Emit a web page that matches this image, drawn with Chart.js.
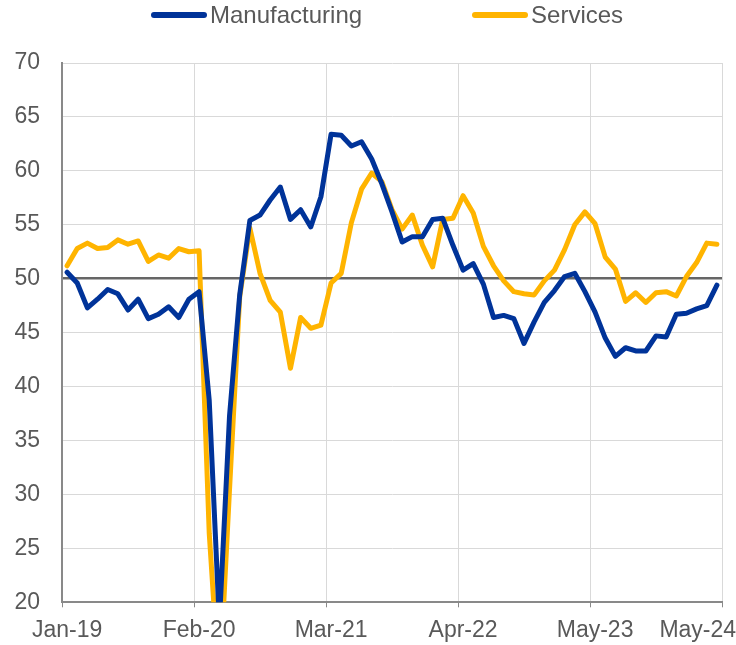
<!DOCTYPE html>
<html>
<head>
<meta charset="utf-8">
<script src="https://cdn.jsdelivr.net/npm/chart.js@4.4.1/dist/chart.umd.min.js"></script>
<style>
  body { margin: 0; background: #fff; }
  #wrap { position: relative; width: 736px; height: 645px; }
  #legend {
    position: absolute; top: 1px; left: 151px;
    display: flex; align-items: center;
    font: 24px 'Liberation Sans', Arial, sans-serif; line-height: 28px; color: #595959;
  }
  .item { display: flex; align-items: center; }
  .item + .item { margin-left: 110px; }
  .swatch { width: 56px; height: 6px; border-radius: 3px; margin-right: 3px; }
</style>
</head>
<body>
<div id="wrap">
  <canvas id="chart" width="736" height="645"></canvas>
  <div id="legend"></div>
</div>
<script>
const months = [
  'Jan-19', 'Feb-19', 'Mar-19', 'Apr-19', 'May-19', 'Jun-19', 'Jul-19', 'Aug-19', 'Sep-19', 'Oct-19', 'Nov-19', 'Dec-19',
  'Jan-20', 'Feb-20', 'Mar-20', 'Apr-20', 'May-20', 'Jun-20', 'Jul-20', 'Aug-20', 'Sep-20', 'Oct-20', 'Nov-20', 'Dec-20',
  'Jan-21', 'Feb-21', 'Mar-21', 'Apr-21', 'May-21', 'Jun-21', 'Jul-21', 'Aug-21', 'Sep-21', 'Oct-21', 'Nov-21', 'Dec-21',
  'Jan-22', 'Feb-22', 'Mar-22', 'Apr-22', 'May-22', 'Jun-22', 'Jul-22', 'Aug-22', 'Sep-22', 'Oct-22', 'Nov-22', 'Dec-22',
  'Jan-23', 'Feb-23', 'Mar-23', 'Apr-23', 'May-23', 'Jun-23', 'Jul-23', 'Aug-23', 'Sep-23', 'Oct-23', 'Nov-23', 'Dec-23',
  'Jan-24', 'Feb-24', 'Mar-24', 'Apr-24', 'May-24'
];

const manufacturing = [
  50.6, 49.6, 47.3, 48.1, 49.0, 48.6, 47.1, 48.1, 46.3, 46.7, 47.4, 46.4,
  48.1, 48.8, 38.7, 18.1, 37.3, 48.5, 55.4, 55.9, 57.3, 58.5, 55.5, 56.4,
  54.8, 57.6, 63.4, 63.3, 62.3, 62.7, 61.1, 58.8, 56.2, 53.4, 53.9, 53.9,
  55.5, 55.6, 53.1, 50.8, 51.4, 49.5, 46.4, 46.6, 46.3, 44.0, 46.0, 47.8,
  48.9, 50.2, 50.5, 48.8, 46.9, 44.5, 42.8, 43.6, 43.3, 43.3, 44.7, 44.6,
  46.7, 46.8, 47.2, 47.5, 49.4
];

const services = [
  51.2, 52.8, 53.3, 52.8, 52.9, 53.6, 53.2, 53.5, 51.6, 52.2, 51.9, 52.8,
  52.5, 52.6, 26.4, 12.0, 30.5, 48.3, 54.7, 50.5, 48.0, 46.9, 41.7, 46.4,
  45.4, 45.7, 49.6, 50.5, 55.2, 58.3, 59.8, 59.0, 56.4, 54.6, 55.9, 53.1,
  51.1, 55.5, 55.6, 57.7, 56.1, 53.0, 51.2, 49.8, 48.8, 48.6, 48.5, 49.8,
  50.8, 52.7, 55.0, 56.2, 55.1, 52.0, 50.9, 47.9, 48.7, 47.8, 48.7, 48.8,
  48.4, 50.2, 51.5, 53.3, 53.2
];

// posiciones de las etiquetas del eje x
const tickIndex = [0, 13, 26, 39, 52, 64];
const seriesNames = ['Manufacturing', 'Services'];
const seriesColors = ['#003399', '#ffb400'];

const textColor = '#595959';
const gridColor = '#d9d9d9';
const axisColor = '#898989';
const fontFamily = "'Liberation Sans', Arial, sans-serif";

// Leyenda en HTML
const legend = document.getElementById('legend');
seriesNames.forEach((nombre, i) => {
  const item = document.createElement('div');
  item.className = 'item';
  item.innerHTML = `<span class="swatch" style="background:${seriesColors[i]}"></span><span>${nombre}</span>`;
  legend.appendChild(item);
});

const lastIndex = months.length - 1;
const conLinea = i => (i === undefined || tickIndex.includes(i)) && i !== lastIndex;

new Chart(document.getElementById('chart'), {
  type: 'line',
  data: {
    labels: months,
    datasets: [manufacturing, services].map((valores, i) => ({
      label: seriesNames[i],
      data: valores,
      borderColor: seriesColors[i],
      backgroundColor: seriesColors[i],
      borderWidth: 5,
      pointRadius: 0,
      tension: 0,
      borderJoinStyle: 'round',
      borderCapStyle: 'round'
    }))
  },
  options: {
    responsive: false,
    animation: false,
    devicePixelRatio: 1,
    layout: { padding: { left: 14, right: 14, top: 63, bottom: 0 } },
    plugins: {
      legend: { display: false },
      tooltip: { enabled: false }
    },
    scales: {
      x: {
        type: 'category',
        offset: true,
        grid: {
          offset: true,
          drawTicks: true,
          tickLength: 5,
          color: ctx => conLinea(ctx.index) ? gridColor : 'transparent',
          tickColor: ctx => conLinea(ctx.index) ? axisColor : 'transparent',
          lineWidth: 1
        },
        border: { color: axisColor, width: 2 },
        ticks: {
          autoSkip: false,
          maxRotation: 0,
          padding: 10,
          color: textColor,
          font: { family: fontFamily, size: 23 },
          callback: (val, i) => {
            if (!tickIndex.includes(i)) return '';
            // la última etiqueta se desplaza a la izquierda como en el original
            return i === lastIndex ? months[i] + '      ' : months[i];
          }
        },
        afterFit: scale => {
          scale.paddingLeft = 0;
          scale.paddingRight = 0;
          scale.height = 42.7;
        }
      },
      y: {
        min: 20,
        max: 70,
        ticks: {
          stepSize: 5,
          padding: 22,
          color: textColor,
          font: { family: fontFamily, size: 23 }
        },
        grid: {
          drawTicks: false,
          color: ctx => ctx.tick && ctx.tick.value === 50 ? '#666666' : gridColor,
          lineWidth: ctx => ctx.tick && ctx.tick.value === 50 ? 2.5 : 1
        },
        border: { color: axisColor, width: 2 },
        afterFit: scale => {
          scale.width = 48;
        }
      }
    }
  }
});
</script>
</body>
</html>
